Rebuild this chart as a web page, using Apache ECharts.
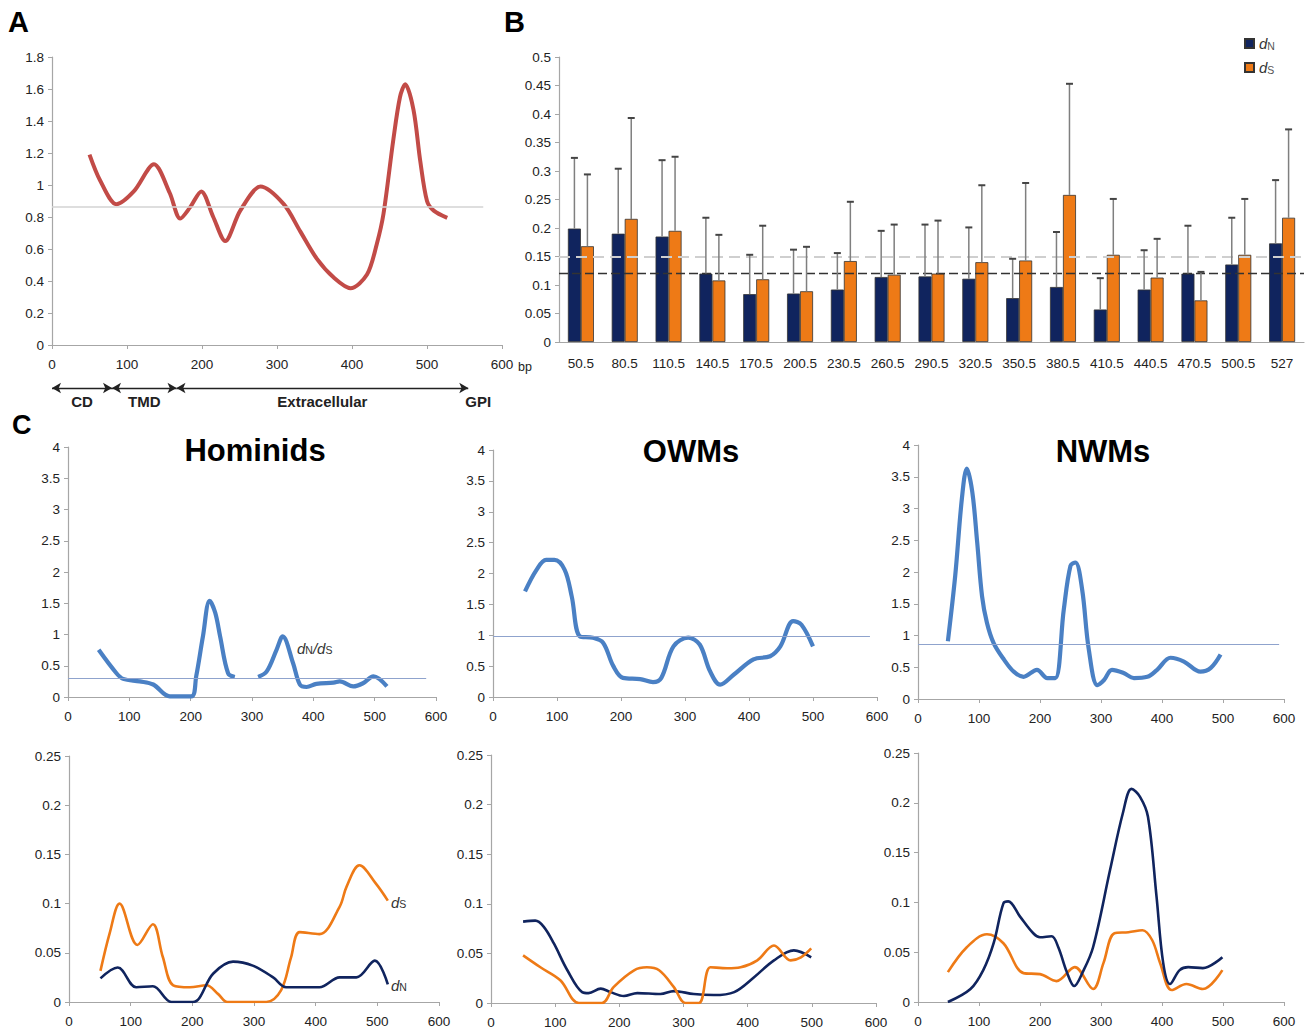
<!DOCTYPE html>
<html><head><meta charset="utf-8">
<script src="https://cdn.jsdelivr.net/npm/echarts@6/dist/echarts.min.js"></script>
<style>html,body{margin:0;padding:0;background:#fff}#c{width:1306px;height:1033px}</style>
</head><body><div id="c"></div>
<script>
// ---------- Panel A : sliding-window dN/dS ----------
const aX = [50, 64, 86, 109, 136, 157, 171, 184, 199, 215, 231, 251, 278, 309, 331, 353, 376, 398, 420, 433, 442, 455, 464, 471, 482, 491, 500, 509, 527];
const aY = [1.19, 1.03, 0.88, 0.96, 1.13, 0.95, 0.79, 0.86, 0.96, 0.80, 0.65, 0.84, 0.99, 0.88, 0.71, 0.54, 0.42, 0.355, 0.44, 0.63, 0.82, 1.28, 1.55, 1.63, 1.47, 1.15, 0.90, 0.84, 0.795];
const aRef = 0.865, aRefEnd = 575;
const domainNames = ['CD', 'TMD', 'Extracellular'];
const domainBounds = [0, 80, 166, 555];
const domainEndLabel = 'GPI';

// ---------- Panel B : dN / dS per window ----------
const bCats = ['50.5','80.5','110.5','140.5','170.5','200.5','230.5','260.5','290.5','320.5','350.5','380.5','410.5','440.5','470.5','500.5','527'];
const bDN    = [0.199,0.190,0.185,0.120,0.084,0.085,0.092,0.114,0.115,0.111,0.077,0.0965,0.057,0.092,0.120,0.136,0.173];
const bDNTop = [0.323,0.304,0.319,0.218,0.153,0.162,0.156,0.195,0.206,0.201,0.146,0.193,0.112,0.161,0.204,0.218,0.284];
const bDS    = [0.168,0.216,0.195,0.108,0.110,0.089,0.142,0.118,0.120,0.140,0.143,0.258,0.153,0.113,0.073,0.153,0.218];
const bDSTop = [0.294,0.393,0.325,0.188,0.204,0.167,0.246,0.206,0.213,0.275,0.279,0.453,0.251,0.181,0.123,0.251,0.373];
const bMeanDS = 0.15, bMeanDN = 0.122;

// ---------- Panel C : lineages ----------
const homRX = [50, 79, 90, 117, 139, 166, 201, 209, 220, 231, 240, 248, 261, 272, 290, 310, 324, 340, 350, 367, 378, 389, 405, 433, 443, 465, 481, 498, 520];
const homRY = [0.755, 0.38, 0.29, 0.25, 0.20, 0.01, 0.01, 0.33, 0.97, 1.54, 1.35, 0.97, 0.38, 0.32, null, 0.32, 0.41, 0.755, 0.97, 0.54, 0.20, 0.16, 0.21, 0.23, 0.25, 0.17, 0.22, 0.33, 0.17];
const homRef = 0.30, homRefEnd = 584;
const homSX = [51, 66, 82, 111, 136, 152, 169, 196, 223, 242, 257, 320, 344, 360, 374, 406, 439, 450, 471, 498, 517];
const homSY = [0.0316, 0.07, 0.100, 0.058, 0.079, 0.046, 0.017, 0.015, 0.017, 0.008, 0, 0, 0.012, 0.045, 0.071, 0.069, 0.097, 0.117, 0.139, 0.120, 0.103];
const homNX = [51, 79, 109, 136, 166, 201, 234, 266, 298, 331, 352, 406, 439, 466, 496, 517];
const homNY = [0.024, 0.035, 0.015, 0.016, 0, 0, 0.029, 0.041, 0.037, 0.025, 0.015, 0.015, 0.025, 0.025, 0.042, 0.018];

const owmRX = [50, 68, 83, 96, 112, 123, 136, 156, 172, 188, 203, 230, 250, 263, 282, 305, 323, 339, 355, 376, 407, 433, 449, 469, 482, 500];
const owmRY = [1.71, 2.06, 2.22, 2.22, 2.06, 1.63, 0.98, 0.96, 0.88, 0.50, 0.31, 0.29, 0.24, 0.31, 0.82, 0.96, 0.85, 0.42, 0.20, 0.36, 0.61, 0.66, 0.82, 1.23, 1.17, 0.82];
const owmRef = 0.98, owmRefEnd = 589;
const owmNX = [50, 69, 82, 98, 119, 142, 152, 171, 186, 207, 228, 264, 285, 316, 347, 379, 410, 441, 472, 499];
const owmNY = [0.082, 0.083, 0.077, 0.060, 0.033, 0.011, 0.010, 0.0145, 0.011, 0.007, 0.010, 0.009, 0.012, 0.009, 0.008, 0.011, 0.026, 0.043, 0.053, 0.046];
const owmSX = [50, 77, 108, 137, 173, 191, 223, 243, 262, 285, 303, 324, 342, 368, 389, 415, 441, 467, 483, 499];
const owmSY = [0.048, 0.036, 0.023, 0, 0, 0.016, 0.033, 0.036, 0.033, 0.016, 0, 0, 0.036, 0.035, 0.036, 0.043, 0.058, 0.043, 0.046, 0.055];

const nwmRX = [49, 61, 72, 80, 89, 97, 105, 113, 124, 141, 157, 173, 195, 212, 225, 239, 250, 258, 269, 280, 294, 305, 318, 337, 354, 376, 392, 414, 436, 463, 480, 496];
const nwmRY = [0.91, 1.94, 3.16, 3.63, 3.26, 2.47, 1.62, 1.20, 0.88, 0.62, 0.43, 0.35, 0.46, 0.33, 0.33, 1.41, 2.10, 2.15, 1.73, 0.78, 0.22, 0.30, 0.46, 0.41, 0.33, 0.35, 0.46, 0.65, 0.59, 0.43, 0.49, 0.70];
const nwmRef = 0.86, nwmRefEnd = 592;
const nwmNX = [49, 86, 107, 124, 140, 148, 167, 189, 200, 219, 230, 244, 256, 270, 287, 315, 336, 350, 364, 377, 391, 402, 413, 429, 443, 467, 499];
const nwmNY = [0, 0.013, 0.032, 0.059, 0.099, 0.101, 0.086, 0.069, 0.065, 0.066, 0.055, 0.03, 0.016, 0.03, 0.055, 0.133, 0.190, 0.214, 0.206, 0.186, 0.106, 0.039, 0.018, 0.032, 0.035, 0.034, 0.045];
const nwmSX = [49, 80, 113, 140, 173, 200, 227, 257, 287, 304, 322, 345, 368, 384, 397, 416, 440, 467, 499];
const nwmSY = [0.030, 0.055, 0.068, 0.059, 0.029, 0.028, 0.021, 0.035, 0.013, 0.039, 0.069, 0.070, 0.072, 0.062, 0.039, 0.012, 0.018, 0.013, 0.032];

const panelTitles = ['Hominids', 'OWMs', 'NWMs'];

// ---------- styling ----------
const FONT = 'Liberation Sans, Arial, sans-serif';
const AX = '#a6a6a6', LBL = '#222';
const NAVY = '#10245e', ORANGE = '#ee7a16', BLUE = '#4a80c4', RED = '#c24b47';
const pairs = (xs, ys) => xs.map((x, i) => [x, ys[i] === null ? '-' : ys[i]]);
const fmt = v => String(+(+v).toFixed(3));

const grids = [
  {left: 52, top: 57, width: 450, height: 288},   // 0 A
  {left: 559, top: 57, width: 745, height: 285},  // 1 B
  {left: 68, top: 447, width: 368, height: 250},  // 2 Hom ratio
  {left: 493, top: 450, width: 384, height: 247}, // 3 OWM ratio
  {left: 918, top: 445, width: 366, height: 254}, // 4 NWM ratio
  {left: 69, top: 756, width: 370, height: 246},  // 5 Hom d
  {left: 491, top: 755, width: 385, height: 248}, // 6 OWM d
  {left: 918, top: 753, width: 366, height: 249}, // 7 NWM d
  {left: 52, top: 380, width: 450, height: 16}    // 8 domain arrows
];

function valX(g, show = true) {
  return {type: 'value', gridIndex: g, min: 0, max: 600, interval: 100, show,
    axisLine: {show: true, lineStyle: {color: AX, width: 1.2}},
    axisTick: {show: true, length: 4, lineStyle: {color: AX}},
    axisLabel: {show: true, color: LBL, fontSize: 13.5, fontFamily: FONT, margin: 12},
    splitLine: {show: false}};
}
function valY(g, max, interval, show = true, min = 0) {
  return {type: 'value', gridIndex: g, min, max, interval, show,
    axisLine: {show: true, lineStyle: {color: AX, width: 1.2}},
    axisTick: {show: true, length: 4, lineStyle: {color: AX}},
    axisLabel: {show: true, color: LBL, fontSize: 13.5, fontFamily: FONT, margin: 8, formatter: fmt},
    splitLine: {show: false}};
}

const xAxes = [
  valX(0),
  {type: 'category', gridIndex: 1, data: bCats,
    axisLine: {lineStyle: {color: AX, width: 1.2}},
    axisTick: {length: 4, lineStyle: {color: AX}},
    axisLabel: {color: LBL, fontSize: 13.5, fontFamily: FONT, margin: 14, interval: 0}},
  valX(2), valX(3), valX(4), valX(5), valX(6), valX(7),
  valX(8, false)
];
const yAxes = [
  valY(0, 1.8, 0.2),
  valY(1, 0.5, 0.05),
  valY(2, 4, 0.5), valY(3, 4, 0.5), valY(4, 4, 0.5),
  valY(5, 0.25, 0.05), valY(6, 0.25, 0.05), valY(7, 0.25, 0.05),
  valY(8, 1, 1, false, -1)
];

function ratioSeries(idx, xs, ys, ref, refEnd) {
  return {type: 'line', xAxisIndex: idx, yAxisIndex: idx, data: pairs(xs, ys),
    smooth: 0.35, showSymbol: false, lineStyle: {color: BLUE, width: 4.2}, connectNulls: false, z: 3,
    markLine: {silent: true, symbol: 'none', label: {show: false},
      lineStyle: {color: '#8fa3cd', width: 1.2, type: 'solid'},
      data: [[{coord: [0, ref]}, {coord: [refEnd, ref]}]]}};
}
function dSeries(idx, xs, ys, color) {
  return {type: 'line', xAxisIndex: idx, yAxisIndex: idx, data: pairs(xs, ys),
    smooth: 0.35, showSymbol: false, lineStyle: {color, width: 2.6}};
}

function errBar(values, tops, off) {
  return {type: 'custom', xAxisIndex: 1, yAxisIndex: 1, z: 5,
    data: values.map((v, i) => [i, v, tops[i]]),
    encode: {x: 0, y: [1, 2]},
    renderItem: (params, api) => {
      const b = api.coord([api.value(0), api.value(1)]);
      const t = api.coord([api.value(0), api.value(2)]);
      const cx = b[0] + off;
      return {type: 'group', children: [
        {type: 'line', shape: {x1: cx, y1: b[1], x2: cx, y2: t[1]}, style: {stroke: '#7f7f7f', lineWidth: 1.5}},
        {type: 'line', shape: {x1: cx - 3.5, y1: t[1], x2: cx + 3.5, y2: t[1]}, style: {stroke: '#444', lineWidth: 2}}
      ]};
    }};
}

const domainLines = domainNames.map((n, i) => [
  {coord: [domainBounds[i], 0], name: n}, {coord: [domainBounds[i + 1], 0]}
]);

const series = [
  {type: 'line', xAxisIndex: 0, yAxisIndex: 0, data: pairs(aX, aY), smooth: 0.3, showSymbol: false,
    lineStyle: {color: RED, width: 4}, z: 3,
    markLine: {silent: true, symbol: 'none', label: {show: false},
      lineStyle: {color: '#d3d3d3', width: 1.5, type: 'solid'},
      data: [[{coord: [0, aRef]}, {coord: [aRefEnd, aRef]}]]}},
  {type: 'line', xAxisIndex: 8, yAxisIndex: 8, data: [[0, 0]], showSymbol: false, lineStyle: {opacity: 0},
    markLine: {silent: true, symbol: ['arrow', 'arrow'], symbolSize: [8, 9],
      lineStyle: {color: '#222', width: 1.4, type: 'solid'},
      label: {show: true, position: 'insideMiddleBottom', formatter: '{b}', color: '#222', fontSize: 15, fontWeight: 'bold', fontFamily: FONT, distance: 6},
      data: domainLines},
    markPoint: {silent: true, symbol: 'rect', symbolSize: 2, itemStyle: {color: 'rgba(0,0,0,0)'},
      label: {show: true, position: 'bottom', formatter: domainEndLabel, color: '#222', fontSize: 15, fontWeight: 'bold', fontFamily: FONT, distance: 5, offset: [10, 0]},
      data: [{coord: [domainBounds[3], 0]}]}},
  {name: 'dN', type: 'bar', xAxisIndex: 1, yAxisIndex: 1, data: bDN, barWidth: 13, barGap: '0%',
    itemStyle: {color: NAVY, borderColor: '#333', borderWidth: 0.8},
    markLine: {silent: true, symbol: 'none', label: {show: false},
      data: [
        {yAxis: bMeanDS, lineStyle: {color: '#cfcfcf', width: 2, type: [11, 6]}},
        {yAxis: bMeanDN, lineStyle: {color: '#333', width: 1.4, type: [9, 4]}}
      ]}},
  {name: 'dS', type: 'bar', xAxisIndex: 1, yAxisIndex: 1, data: bDS, barWidth: 13, barGap: '0%',
    itemStyle: {color: ORANGE, borderColor: '#333', borderWidth: 0.8}},
  errBar(bDN, bDNTop, -6.5),
  errBar(bDS, bDSTop, 6.5),
  ratioSeries(2, homRX, homRY, homRef, homRefEnd),
  ratioSeries(3, owmRX, owmRY, owmRef, owmRefEnd),
  ratioSeries(4, nwmRX, nwmRY, nwmRef, nwmRefEnd),
  dSeries(5, homSX, homSY, ORANGE), dSeries(5, homNX, homNY, NAVY),
  dSeries(6, owmNX, owmNY, NAVY), dSeries(6, owmSX, owmSY, ORANGE),
  dSeries(7, nwmSX, nwmSY, ORANGE), dSeries(7, nwmNX, nwmNY, NAVY)
];

const sub = {
  i: {fontStyle: 'italic', fontSize: 15, color: '#333', fontFamily: FONT},
  s: {fontSize: 10.5, color: '#555', fontFamily: FONT, padding: [4, 0, 0, 0]},
  n: {fontSize: 15, color: '#333', fontStyle: 'italic', fontFamily: FONT}
};
const txt = (x, y, text, size, align = 'left') => ({type: 'text', x, y,
  style: {text, fontSize: size, fontWeight: 'bold', fontFamily: FONT, fill: '#000', textAlign: align, textVerticalAlign: 'middle'}});
const richTxt = (x, y, text) => ({type: 'text', x, y,
  style: {text, rich: sub, textVerticalAlign: 'middle', fill: '#333'}});

const chart = echarts.init(document.getElementById('c'), null, {renderer: 'svg', width: 1306, height: 1033});
chart.setOption({
  animation: false,
  backgroundColor: '#fff',
  textStyle: {fontFamily: FONT},
  grid: grids,
  xAxis: xAxes,
  yAxis: yAxes,
  legend: {data: ['dN', 'dS'], orient: 'vertical', left: 1239, top: 31, itemWidth: 9, itemHeight: 9, itemGap: 9,
    icon: 'rect', selectedMode: false,
    formatter: n => n === 'dN' ? '{i|d}{s|N}' : '{i|d}{s|S}',
    textStyle: {rich: sub}},
  graphic: [
    txt(8, 22, 'A', 29), txt(504, 22, 'B', 29), txt(12, 425, 'C', 27),
    txt(255, 450, panelTitles[0], 31, 'center'),
    txt(691, 451, panelTitles[1], 31, 'center'),
    txt(1103, 451, panelTitles[2], 31, 'center'),
    {type: 'text', x: 518, y: 367, style: {text: 'bp', fontSize: 12.5, fontFamily: FONT, fill: LBL, textVerticalAlign: 'middle'}},
    richTxt(297, 648, '{i|d}{s|N}{n|/}{i|d}{s|S}'),
    richTxt(391, 902, '{i|d}{s|S}'),
    richTxt(391, 985, '{i|d}{s|N}')
  ],
  series
});
</script></body></html>
